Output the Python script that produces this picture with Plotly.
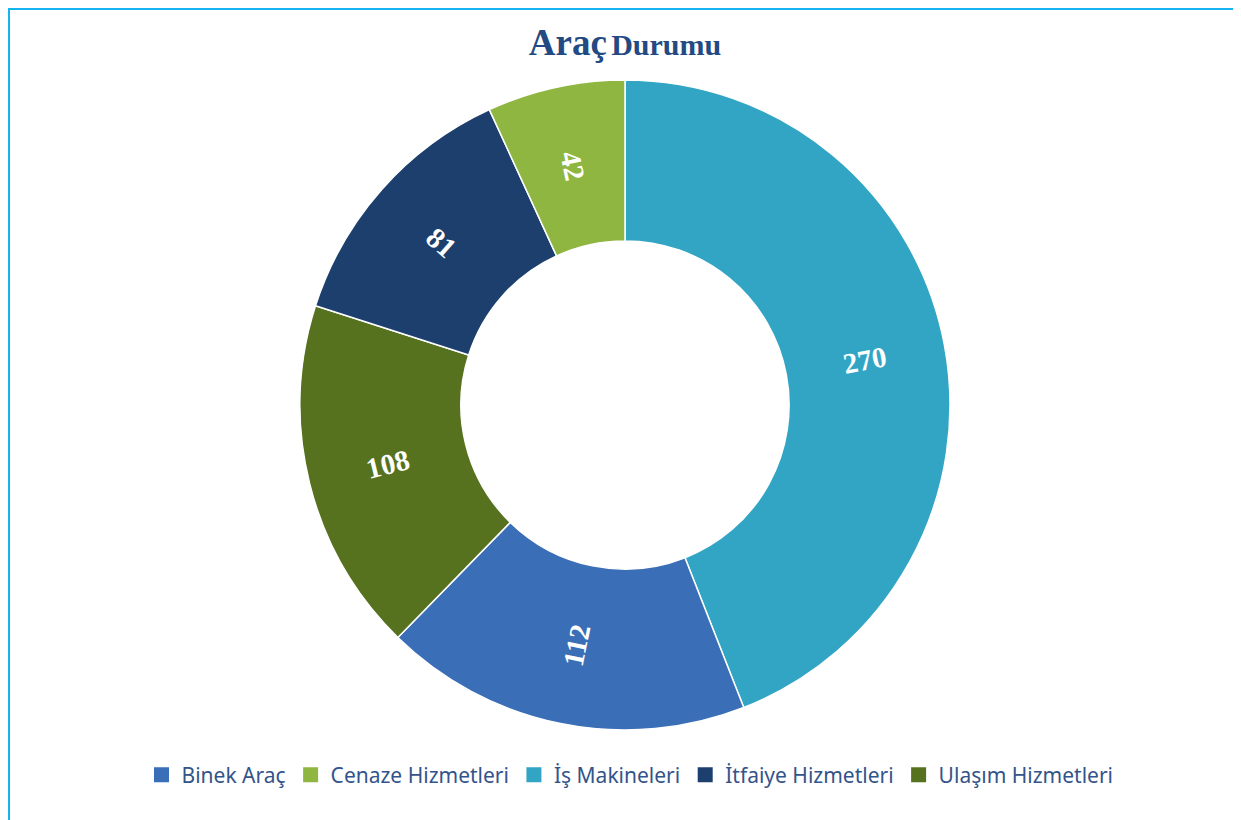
import math
import plotly.graph_objects as go

# Data (slice order clockwise from 12 o'clock)
slice_labels = ["İş Makineleri", "Binek Araç", "Ulaşım Hizmetleri", "İtfaiye Hizmetleri", "Cenaze Hizmetleri"]
slice_values = [270, 112, 108, 81, 42]
slice_colors = ["#32a5c5", "#3a6eb6", "#56721f", "#1c3f6e", "#8fb641"]

# Legend order (alphabetical, as in the reference)
legend_labels = ["Binek Araç", "Cenaze Hizmetleri", "İş Makineleri", "İtfaiye Hizmetleri", "Ulaşım Hizmetleri"]

color_of = dict(zip(slice_labels, slice_colors))

W, H = 1233, 812          # figure size (page adds an 8px body margin)
CX, CY = 617, 397         # pie centre in figure pixels
R_OUT = 325               # outer radius in pixels
HOLE = 0.505
R_TXT = R_OUT * (1 + HOLE) / 2

fig = go.Figure()
fig.add_trace(go.Pie(
    labels=slice_labels,
    values=slice_values,
    sort=False,
    direction="clockwise",
    rotation=0,
    hole=HOLE,
    marker=dict(colors=slice_colors, line=dict(color="white", width=1.5)),
    textinfo="none",
    showlegend=False,
    domain=dict(x=[(CX - R_OUT) / W, (CX + R_OUT) / W],
                y=[1 - (CY + R_OUT) / H, 1 - (CY - R_OUT) / H]),
    hoverinfo="label+value",
))

# Radially oriented value labels at the middle of each ring segment
total = sum(slice_values)
annotations = []
cum = 0
for v in slice_values:
    mid = (cum + v / 2) / total * 360.0
    cum += v
    th = math.radians(mid)
    px = CX + R_TXT * math.sin(th)
    py = CY - R_TXT * math.cos(th)
    ang = mid - 90 if mid < 180 else mid - 270
    annotations.append(dict(
        x=px / W, y=1 - py / H, xref="paper", yref="paper",
        text=f"<b>{v}</b>", showarrow=False, textangle=ang,
        xanchor="center", yanchor="middle",
        font=dict(family="Liberation Serif", size=29, color="white"),
    ))

for lab in legend_labels:
    fig.add_trace(go.Scatter(
        x=[None], y=[None], mode="markers", name=lab,
        marker=dict(symbol="square", size=15, color=color_of[lab]),
        showlegend=True,
    ))

fig.update_layout(
    width=W, height=H,
    margin=dict(l=0, r=0, t=0, b=0),
    paper_bgcolor="white", plot_bgcolor="white",
    title=dict(
        text="<b><span style='font-size:37px'>Araç</span> <span style='font-size:30px'>Durumu</span></b>",
        x=617 / W, xanchor="center", y=1 - 41 / H, yanchor="middle",
        font=dict(family="Liberation Serif", color="#234a82"),
    ),
    xaxis=dict(visible=False), yaxis=dict(visible=False),
    legend=dict(
        orientation="h", x=622 / W, xanchor="center", y=1 - 767 / H, yanchor="middle",
        font=dict(family="Noto Sans", size=21, color="#33548a"),
        itemwidth=30, tracegroupgap=0,
        bgcolor="rgba(0,0,0,0)",
    ),
    annotations=annotations,
    shapes=[
        dict(type="line", xref="paper", yref="paper", x0=0, x1=1.0, y0=1 - 1 / H, y1=1 - 1 / H,
             line=dict(color="#14b4ee", width=2)),
        dict(type="line", xref="paper", yref="paper", x0=1 / W, x1=1 / W, y0=0, y1=1,
             line=dict(color="#14b4ee", width=2)),
    ],
)

fig.write_html("out.html")
